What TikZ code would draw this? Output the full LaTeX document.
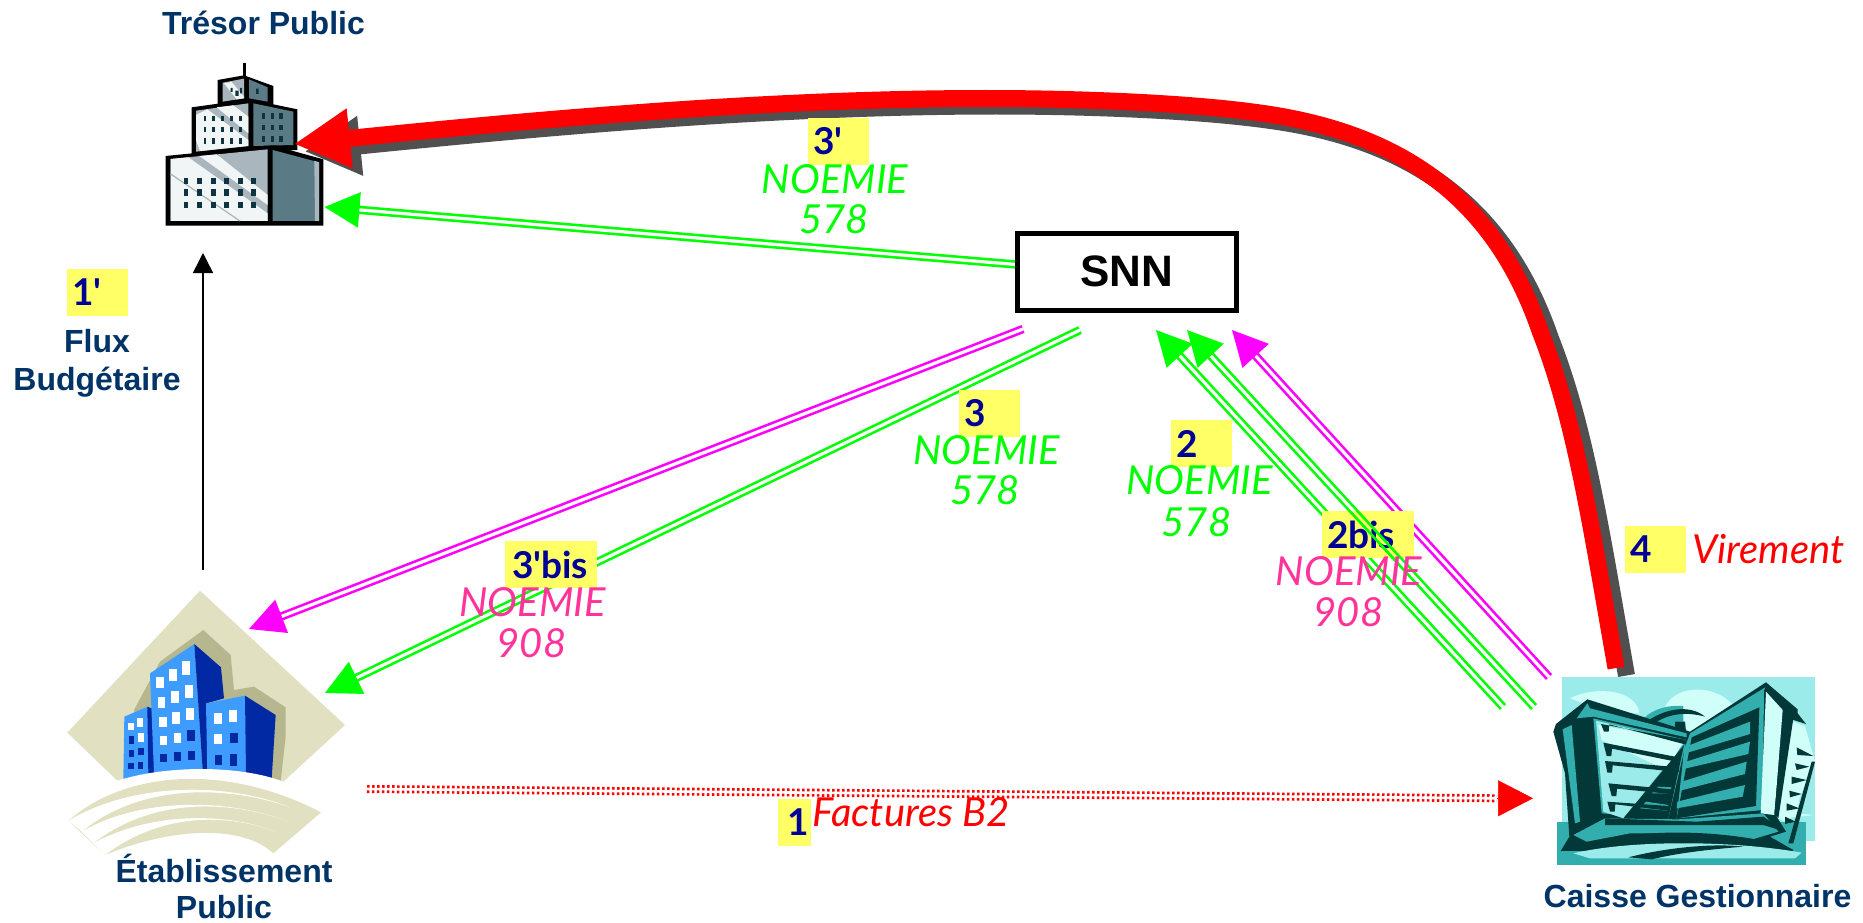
\documentclass[tikz,border=0pt]{standalone}
\usepackage{fontspec}
\setmainfont{Liberation Sans}
\newfontfamily\labfont{Lato}
\usetikzlibrary{arrows.meta,calc}
\definecolor{headc}{HTML}{003366}
\definecolor{numc}{HTML}{000099}
\definecolor{yelc}{HTML}{FFFF66}
\definecolor{pinkc}{HTML}{FF3399}
\definecolor{greyc}{HTML}{505050}
\definecolor{sand}{HTML}{E1E0C0}
\definecolor{sandd}{HTML}{B7B78F}
\definecolor{bluel}{HTML}{3F9CFF}
\definecolor{blued}{HTML}{0029A3}
\definecolor{steel}{HTML}{5A7A86}
\definecolor{steell}{HTML}{A9B6BE}
\definecolor{winw}{HTML}{F1F5F6}
\definecolor{wind}{HTML}{0E3440}
\definecolor{teal1}{HTML}{9BEBEB}
\definecolor{teal2}{HTML}{33AEAE}
\definecolor{teal3}{HTML}{D0FFFA}
\definecolor{teal4}{HTML}{033838}
\definecolor{gflow}{HTML}{00FF00}
\definecolor{mflow}{HTML}{FF00FF}
\definecolor{rflow}{HTML}{FF0000}
\tikzset{
  heading/.style={font=\fontsize{32}{38}\selectfont\bfseries, text=headc, inner sep=0pt, align=center},
  numbox/.style={fill=yelc, text=numc, font=\fontsize{37}{37}\selectfont\labfont\bfseries, inner xsep=0pt, inner ysep=0pt, minimum height=47pt, text width=#1, align=left},
  flow/.style={font=\fontsize{40}{42}\selectfont\labfont\itshape, inner sep=0pt},
  dbl/.style={draw=#1, line width=2.6pt, double=white, double distance=3.2pt, -{Triangle[length=35pt,width=35pt]}},
  strand/.style={draw=#1, line width=2.6pt},
  x=1pt,y=-1pt
}
\begin{document}
\begin{tikzpicture}
\useasboundingbox (0,0) rectangle (1863,923);
\fill[white] (0,0) rectangle (1863,923);

% ---------- Tresor building
\begin{scope}[shift={(120,0)},x=.33333pt,y=-.33333pt]
\draw[black,line width=3pt] (372,190) -- (372,232);
\fill[black] (293,240) -- (372,226) -- (460,258) -- (460,320) -- (293,320) -- cycle;
\fill[steell] (308,248) -- (372,236) -- (372,295) -- (308,305) -- cycle;
\fill[winw] (312,250) -- (335,246) -- (372,290) -- (372,295) -- (350,298) -- cycle;
\fill[steel] (387,238) -- (443,262) -- (443,305) -- (387,295) -- cycle;
\fill[wind] (332,264) rectangle (338,276) (346,272) rectangle (356,288) (360,264) rectangle (366,280) (408,266) rectangle (416,282);
\fill[black] (215,322) -- (388,298) -- (532,328) -- (532,450) -- (215,465) -- cycle;
\fill[steell] (228,332) -- (385,310) -- (385,438) -- (228,455) -- cycle;
\fill[winw] (228,345) -- (262,328) -- (385,420) -- (385,438) -- (240,453) -- (228,420) -- cycle;
\fill[winw] (290,322) -- (340,316) -- (385,350) -- (385,400) -- cycle;
\fill[steel] (400,310) -- (520,335) -- (520,435) -- (400,438) -- cycle;
\foreach \xx in {255,281,308,335,362} \foreach \yy in {356,388,423} \fill[wind] (\xx-4,\yy-8) rectangle (\xx+4,\yy+8);
\foreach \xx in {430,457,483} \foreach \yy in {348,382,417} \fill[wind] (\xx-5,\yy-8) rectangle (\xx+5,\yy+8);
\fill[black] (137,468) -- (458,436) -- (610,478) -- (610,677) -- (137,677) -- cycle;
\fill[steell] (152,477) -- (443,448) -- (443,663) -- (152,663) -- cycle;
\fill[winw] (152,477) -- (205,472) -- (443,640) -- (443,663) -- (152,663) -- cycle;
\fill[winw] (238,468) -- (290,463) -- (443,585) -- (443,615) -- cycle;
\draw[steell,line width=1.2pt] (152,522) -- (360,663);
\fill[steel] (458,450) -- (597,487) -- (597,663) -- (458,663) -- cycle;
\fill[steell] (583,482) -- (597,487) -- (597,663) -- (585,663) -- cycle;
\foreach \xx in {198,238,280,320,361,400} \foreach \yy in {543,577,615} \fill[wind] (\xx-7,\yy-10) rectangle (\xx+7,\yy+10);
\end{scope}

% ---------- Etablissement building
\begin{scope}[shift={(40,570)},x=.33333pt,y=-.33333pt]
\fill[sand] (480,62) -- (915,465) -- (730,635) -- (232,632) -- (82,488) -- cycle;
\fill[sandd] (282,420) -- (360,275) -- (490,180) -- (572,255) -- (582,360) -- (642,350) -- (737,412) -- (737,500) -- (722,635) -- (300,635) -- cycle;
\fill[bluel] (253,440) -- (322,410) -- (342,610) -- (250,628) -- cycle;
\fill[blued] (322,410) -- (340,417) -- (343,610) -- (325,612) -- cycle;
\fill[bluel] (330,310) -- (463,222) -- (488,600) -- (342,610) -- cycle;
\fill[blued] (463,222) -- (543,292) -- (552,385) -- (500,400) -- (502,600) -- (488,600) -- cycle;
\fill[bluel] (498,400) -- (615,377) -- (620,612) -- (502,600) -- cycle;
\fill[blued] (615,377) -- (707,435) -- (695,628) -- (618,610) -- cycle;
\foreach \xa/\ya/\xb/\yb/\cc in {
 265/458/282/480/white, 292/445/309/470/white,
 267/498/283/522/blued, 294/490/311/515/white,
 267/541/283/562/blued, 294/535/311/556/blued,
 265/580/281/598/blued, 293/577/310/597/blued,
 349/320/371/355/white, 388/297/411/333/white, 427/273/450/315/white,
 354/380/376/414/white, 394/363/416/398/white, 434/345/458/383/white,
 357/440/380/471/white, 397/427/420/461/white, 438/414/462/449/white,
 360/497/381/526/white, 401/489/423/519/white, 442/481/465/512/blued,
 360/551/381/577/blued, 402/547/423/574/blued, 443/542/465/571/blued,
 521/428/545/461/white, 567/419/591/455/white,
 523/492/547/523/white, 570/488/593/520/blued,
 524/555/546/585/blued, 570/553/592/587/blued}
 {\fill[\cc] (\xa,\ya) rectangle (\xb,\yb);}
\fill[white] (180,632) -- (232,632) .. controls (380,585) and (600,585) .. (730,635) -- (790,660) -- (180,660) -- cycle;
\fill[sand] (85,752) .. controls (260,600) and (560,580) .. (843,727) -- (700,850) .. controls (610,765) and (400,770) .. (195,855) -- cycle;
\fill[white] (85,752) .. controls (280,636) and (560,636) .. (750,712) .. controls (560,645) and (300,640) .. (125,785) -- cycle;
\fill[white] (125,785) .. controls (300,683) and (560,683) .. (745,755) .. controls (560,686) and (330,686) .. (160,820) -- cycle;
\fill[white] (160,820) .. controls (330,726) and (560,726) .. (705,785) .. controls (560,729) and (360,729) .. (195,855) -- cycle;
\end{scope}

% ---------- Caisse building
\begin{scope}[shift={(1530,650)},x=.33333pt,y=-.33333pt]
\fill[teal1] (96,81) rectangle (855,573);
\fill[teal3] (120,145) .. controls (200,105) and (320,120) .. (328,190) -- (240,190) -- cycle;
\fill[teal3] (405,170) .. controls (440,100) and (570,100) .. (620,180) -- (480,250) -- cycle;
\fill[teal3] (700,230) .. controls (790,200) and (840,260) .. (830,330) -- (800,490) -- (850,495) -- (720,510) -- cycle;
\fill[teal2] (81,516) rectangle (828,645);
\fill[teal2] (335,212) .. controls (370,170) and (430,165) .. (460,168) -- (460,240) -- cycle;
\fill[teal4] (350,215) .. controls (420,165) and (490,170) .. (525,200) .. controls (470,185) and (420,190) .. (375,218) -- cycle;
\fill[teal4] (435,215) -- (465,215) -- (468,245) -- (435,235) -- cycle;
\fill[teal4] (70,245) -- (78,222) -- (172,148) -- (480,245) -- (708,97) -- (803,178) -- (803,190) -- (828,222) -- (775,205) -- (740,500) -- (768,545) -- (720,560) -- (790,600) -- (92,603) -- (118,560) -- (105,370) -- cycle;
\fill[teal2] (98,238) -- (125,225) -- (150,515) -- (135,520) -- cycle;
\fill[teal2] (140,205) -- (172,160) -- (180,175) -- (470,250) -- (470,262) -- (190,200) -- cycle;
\fill[teal2] (190,205) -- (470,270) -- (415,505) -- (215,490) -- cycle;
\fill[teal1] (198,212) -- (465,275) -- (280,505) -- (220,485) -- cycle;
\fill[teal3] (205,225) -- (462,272) -- (410,360) -- (215,270) -- cycle;
\fill[teal4] (462,285) -- (448,350) -- (415,505) -- (280,505) -- cycle;
\fill[teal2] (385,410) -- (425,412) -- (415,430) -- (365,430) -- cycle;
\fill[teal2] (348,455) -- (415,465) -- (412,482) -- (330,475) -- cycle;
\foreach \a/\b/\c/\d/\e/\f in {
 213/222/470/270/222/245, 220/278/445/322/230/318, 225/333/448/352/232/368, 235/400/425/418/245/438, 232/455/415/468/240/485}
 {\fill[teal4] (\a,\b) -- (\c,\d) -- (\c-2,\d+14) -- (\e+16,\f-22) -- (\e+14,\f) -- (\e,\f) -- cycle;}
\fill[teal2] (480,250) -- (706,112) -- (702,122) -- (698,480) -- (440,505) -- (462,300) -- cycle;
\fill[teal4] (485,262) -- (688,172) -- (678,468) -- (440,505) -- cycle;
\foreach \a/\b/\c/\d/\e/\f/\g/\h in {
 480/285/660/215/660/252/476/307, 468/335/660/275/655/312/464/356, 455/395/650/335/645/372/450/422, 442/455/645/405/638/440/440/475}
 {\fill[teal2] (\a,\b) -- (\c,\d) -- (\e,\f) -- (\g,\h) -- cycle;}
\fill[teal3] (708,125) -- (758,180) -- (733,495) -- (692,490) -- cycle;
\fill[teal3] (775,210) -- (825,228) -- (855,335) -- (775,520) -- (745,505) -- cycle;
\fill[teal4] (762,195) -- (790,205) -- (745,505) -- (733,490) -- cycle;
\fill[teal4] (855,335) -- (790,580) -- (775,580) -- (845,335) -- cycle;
\fill[teal4] (800,292) -- (850,318) -- (802,315) -- cycle;
\fill[teal4] (795,340) -- (838,350) -- (800,360) -- cycle;
\fill[teal4] (785,380) -- (830,390) -- (785,402) -- cycle;
\fill[teal4] (778,422) -- (815,432) -- (780,442) -- cycle;
\fill[teal4] (770,460) -- (808,475) -- (770,482) -- cycle;
\fill[teal4] (765,500) -- (797,515) -- (765,522) -- cycle;
\fill[teal2] (225,505) -- (445,508) -- (700,490) -- (745,545) -- (660,570) -- (470,550) -- (300,550) -- (170,575) -- (130,555) -- cycle;
\fill[teal4] (225,505) -- (500,515) -- (700,500) -- (765,545) -- (700,525) -- (440,525) -- (225,525) -- cycle;
\fill[teal4] (92,603) .. controls (220,555) and (420,530) .. (640,562) .. controls (700,570) and (760,590) .. (790,600) -- (785,605) .. controls (600,560) and (300,560) .. (92,603) -- cycle;
\fill[teal1] (130,610) .. controls (300,570) and (600,570) .. (815,608) -- (795,625) -- (180,625) -- cycle;
\fill[teal4] (295,622) .. controls (420,590) and (560,580) .. (640,590) .. controls (520,600) and (440,610) .. (365,628) -- cycle;
\end{scope}

% ---------- invisible anchors for the buildings and endpoints
\node[inner sep=0pt,minimum width=160pt,minimum height=170pt] (tresor) at (243,135) {};
\node[inner sep=0pt,minimum width=280pt,minimum height=270pt] (etab) at (205,730) {};
\node[inner sep=0pt,minimum width=260pt,minimum height=190pt] (caisse) at (1680,765) {};
\coordinate (aTr) at (324.5,207);
\coordinate (aTrRed) at (294,144);
\coordinate (aCr) at (1616,668);
\coordinate (aSw) at (1016,264.5);
\coordinate (aSm) at (1023,329);
\coordinate (aSg) at (1080,330);
\coordinate (aEm) at (249,629);
\coordinate (aEg) at (325,693);
\coordinate (aG1) at (1156,330);
\coordinate (aG2) at (1187,330);
\coordinate (aM) at (1232,330);
\coordinate (aC1) at (1503,707);
\coordinate (aC2) at (1534,707);
\coordinate (aC3) at (1549,677);
\coordinate (aEf) at (367,789);
\coordinate (aCb) at (1497,798.3);
\coordinate (aCf) at (1533,798.3);
\coordinate (aB0) at (203,570);
\coordinate (aB1) at (203,253);

% ---------- connectors
\draw[black,line width=1.5pt,-{Triangle[length=20pt,width=20pt]}] (aB0) -- (aB1);
\draw[dbl=gflow] (aSw) -- (aTr);
\draw[dbl=mflow] (aSm) -- (aEm);
\draw[dbl=gflow] (aSg) -- (aEg);
\draw[dbl=gflow] (aC1) -- (aG1);
\draw[dbl=gflow] (aC2) -- (aG2);
\draw[dbl=mflow] (aC3) -- (aM);
\draw[rflow,line width=8pt,dash pattern=on 2.5pt off 2.5pt] (aEf) -- (aCb);
\draw[white,line width=2.6pt] (aEf) -- (aCb);
\draw[rflow,line width=.5pt,-{Triangle[length=35pt,width=36pt]}] (aCb) -- (aCf);

\draw[greyc,line width=17pt,transform canvas={shift={(10.5pt,-7.5pt)}},-{Triangle[length=56pt,width=56pt]}]
  (aCr) .. controls (1590,520) and (1575,420) .. (1540,331)
  .. controls (1500,215) and (1420,135) .. (1260,113)
  .. controls (1190,103) and (1080,98.5) .. (986,98.5)
  .. controls (780,98.5) and (560,117) .. (aTrRed);
\draw[rflow,line width=17pt,-{Triangle[length=56pt,width=56pt]}]
  (aCr) .. controls (1590,520) and (1575,420) .. (1540,331)
  .. controls (1500,215) and (1420,135) .. (1260,113)
  .. controls (1190,103) and (1080,98.5) .. (986,98.5)
  .. controls (780,98.5) and (560,117) .. (aTrRed);

% ---------- SNN
\node[draw=black,line width=5pt,fill=white,minimum width=218.5pt,minimum height=77pt,inner sep=0pt,font=\fontsize{44}{44}\selectfont\bfseries] (snn) at (1127,271.5) {SNN};

% ---------- headings
\node[heading,anchor=base] (tt) at (263.5,35) {Trésor Public};
\node[heading,anchor=base] (t1) at (97,352) {Flux};
\node[heading,anchor=base] (t2) at (97,390) {Budgétaire};
\node[heading,anchor=base] (t3) at (224,882) {Établissement};
\node[heading,anchor=base] (t4) at (224,918) {Public};
\node[heading,anchor=base] (t5) at (1697.5,907) {Caisse Gestionnaire};

% ---------- number boxes
\node[numbox=61pt] (n1p) at (97.5,292.5) {\hspace*{5pt}1'};
\node[numbox=61pt] (n3p) at (838.5,141.5) {\hspace*{5pt}3'};
\node[numbox=61pt] (n3) at (989.5,413.5) {\hspace*{5pt}3};
\node[numbox=61pt] (n2) at (1201.5,443.5) {\hspace*{5pt}2};
\node[numbox=92pt] (n2b) at (1368,534.5) {\hspace*{5pt}2bis};
\node[numbox=92pt] (n3b) at (551,564.5) {\hspace*{7pt}3'bis};
\node[numbox=33pt] (n1) at (794.5,822.5) {\hspace*{9pt}1};
\node[numbox=61pt] (n4) at (1655.5,549.5) {\hspace*{5pt}4};

% ---------- green strands passing over the 2bis box
\begin{scope}
\clip (1322,511) rectangle (1414,558);
\draw[strand=gflow,transform canvas={shift={(2.1pt,1.93pt)}}] (aC2) -- (aG2);
\draw[strand=gflow,transform canvas={shift={(-2.1pt,-1.93pt)}}] (aC2) -- (aG2);
\end{scope}

% ---------- flow labels
\node[flow,text=gflow,anchor=base] (l1) at (835,193) {NOEMIE};
\node[flow,text=gflow,anchor=base] (l2) at (834,233) {578};
\node[flow,text=gflow,anchor=base] (l3) at (986.5,464) {NOEMIE};
\node[flow,text=gflow,anchor=base] (l4) at (985,504) {578};
\node[flow,text=gflow,anchor=base] (l5) at (1199.5,494) {NOEMIE};
\node[flow,text=gflow,anchor=base] (l6) at (1196.5,536) {578};
\node[flow,text=pinkc,anchor=base] (l7) at (1349,585) {NOEMIE};
\node[flow,text=pinkc,anchor=base] (l8) at (1348.5,626) {908};
\node[flow,text=pinkc,anchor=base] (l9) at (532.5,616) {NOEMIE};
\node[flow,text=pinkc,anchor=base] (l10) at (531.5,657) {908};
\node[flow,text=rflow,anchor=base west] (l11) at (812,826) {Factures B2};
\node[flow,text=rflow,anchor=base west] (l12) at (1692,563) {Virement};
\end{tikzpicture}
\end{document}
